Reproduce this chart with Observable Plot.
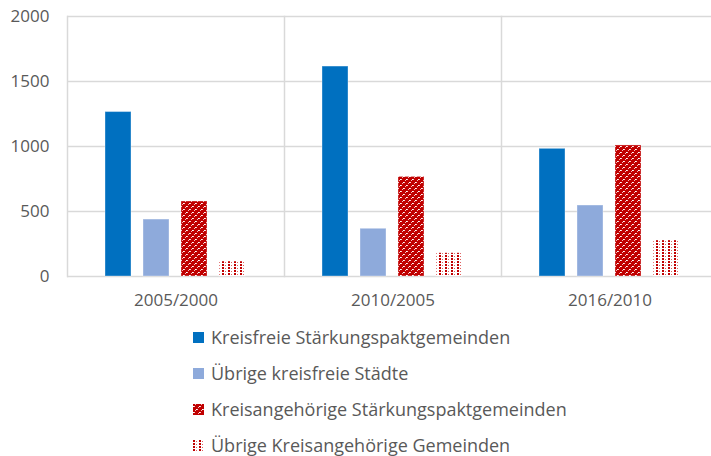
<!DOCTYPE html>
<html>
<head>
<meta charset="utf-8">
<script src="https://cdn.jsdelivr.net/npm/d3@7"></script>
<script src="https://cdn.jsdelivr.net/npm/@observablehq/plot@0.6"></script>
<style>
  html, body { margin: 0; padding: 0; background: #fff; overflow: hidden; }
  #chart { width: 711px; }
  #legend { margin-left: 193px; margin-top: 3px; font-family: "Open Sans", sans-serif; font-size: 18px; color: #595959; }
  .row { display: flex; align-items: center; height: 36px; }
  .row svg { margin-right: 7px; flex: none; }
</style>
</head>
<body>
<div id="chart"></div>
<div id="legend"></div>
<script>
const periods = ["2005/2000", "2010/2005", "2016/2010"];
const series = [
  "Kreisfreie Stärkungspaktgemeinden",
  "Übrige kreisfreie Städte",
  "Kreisangehörige Stärkungspaktgemeinden",
  "Übrige Kreisangehörige Gemeinden"
];
const kreisfreieSP = [1265, 1615, 982];
const uebrigeKreisfrei = [438, 367, 546];
const kreisangehSP = [577, 766, 1008];
const uebrigeKreisangeh = [115, 179, 277];
const yTicks = [0, 500, 1000, 1500, 2000];

const seriesValues = [kreisfreieSP, uebrigeKreisfrei, kreisangehSP, uebrigeKreisangeh];
const data = periods.flatMap((p, i) => series.map((s, j) => ({period: p, series: s, value: seriesValues[j][i]})));

const fills = ["#0070C0", "#8EAADB", "url(#patDense)", "url(#patSparse)"];

const chart = Plot.plot({
  width: 711,
  height: 316,
  marginTop: 16,
  marginBottom: 40,
  marginLeft: 67,
  marginRight: -7,
  style: {fontFamily: "'Open Sans', sans-serif", fontSize: "17px", color: "#595959", background: "white"},
  fx: {domain: periods, padding: 0, label: null, tickSize: 0, tickPadding: 17, axis: "bottom"},
  x: {domain: series, axis: null, paddingInner: 0.31, paddingOuter: 0.94},
  y: {domain: [0, 2000], axis: null},
  color: {domain: series, range: fills},
  marks: [
    Plot.gridY(yTicks, {stroke: "#d9d9d9", strokeOpacity: 1, strokeWidth: 1.5}),
    Plot.frame({anchor: "left", stroke: "#d9d9d9", strokeWidth: 1.5}),
    Plot.barY(data, {fx: "period", x: "series", y: "value", fill: "series", stroke: "white", strokeOpacity: 0.35, strokeWidth: 1}),
    Plot.axisY(yTicks, {tickSize: 0, tickPadding: 18, tickFormat: d => String(d), label: null, fill: "#595959", facetAnchor: "left"})
  ]
});

const svg = d3.select(chart.tagName.toLowerCase() === "svg" ? chart : chart.querySelector("svg"));
const defs = svg.insert("defs", ":first-child");
// dense red pattern
const pd = defs.append("pattern").attr("id", "patDense").attr("patternUnits", "userSpaceOnUse").attr("width", 6).attr("height", 6);
pd.append("rect").attr("width", 6).attr("height", 6).attr("fill", "#C00000");
[[0,2,"#fff"],[3,5,"#fff"],[2,0,"#f2b8b8"],[5,3,"#f2b8b8"],[1,2,"#f6d0d0"],[4,5,"#f6d0d0"]].forEach(([x,y,c]) =>
  pd.append("rect").attr("x", x).attr("y", y).attr("width", 1).attr("height", 1).attr("fill", c));
// sparse red dots pattern
const ps = defs.append("pattern").attr("id", "patSparse").attr("patternUnits", "userSpaceOnUse").attr("width", 6).attr("height", 3);
ps.append("rect").attr("width", 6).attr("height", 3).attr("fill", "#fff");
ps.append("rect").attr("x", 0).attr("y", 0).attr("width", 2).attr("height", 2).attr("fill", "#C00000");
ps.append("rect").attr("x", 3).attr("y", 1).attr("width", 1).attr("height", 1).attr("fill", "#e06060");

document.getElementById("chart").appendChild(chart);

const legend = d3.select("#legend");
series.forEach((s, i) => {
  const row = legend.append("div").attr("class", "row");
  const sw = row.append("svg").attr("width", 11).attr("height", 11);
  sw.append("rect").attr("width", 11).attr("height", 11).attr("fill", fills[i]);
  row.append("span").text(s);
});
</script>
</body>
</html>
